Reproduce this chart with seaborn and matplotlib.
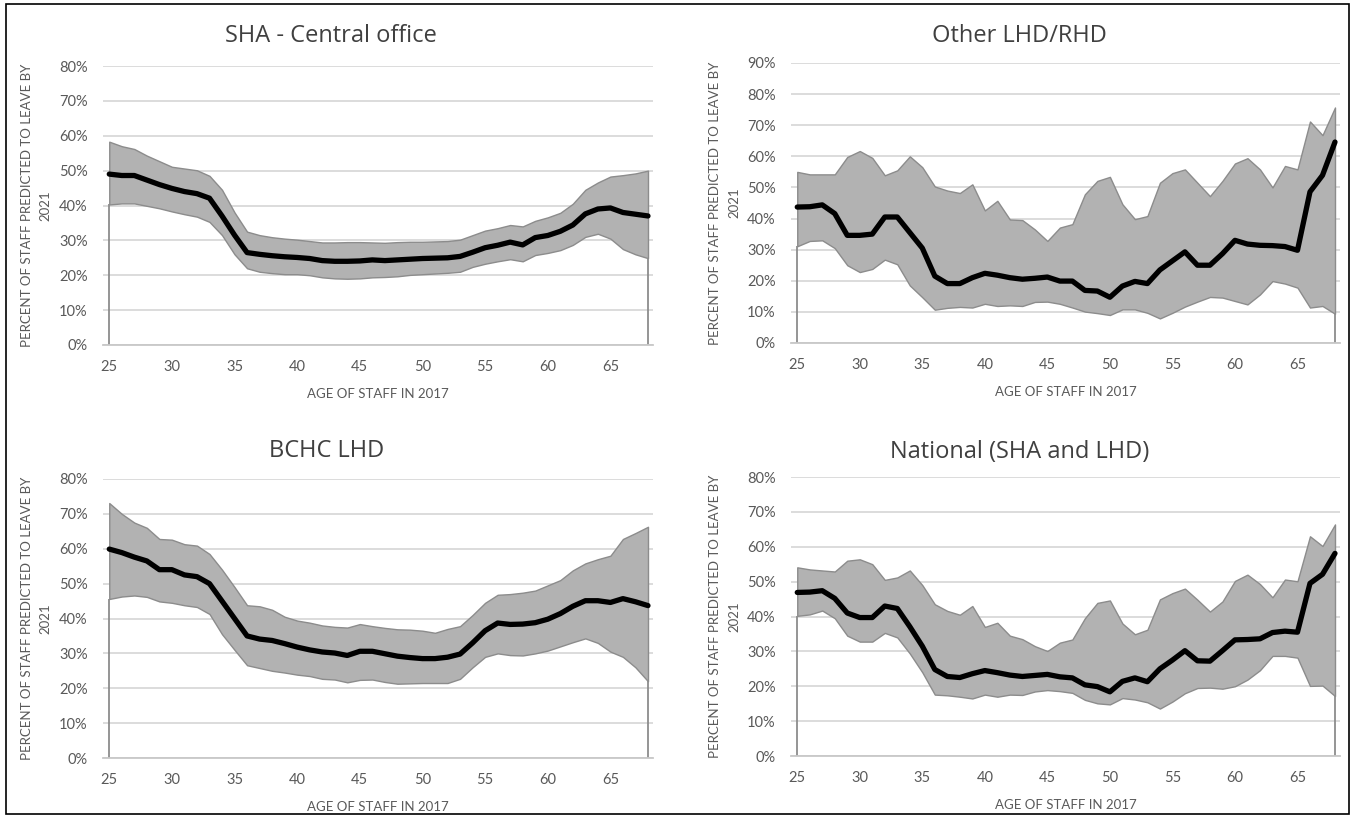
import matplotlib
matplotlib.use('Agg')
import matplotlib.pyplot as plt
from matplotlib.patches import Rectangle
from matplotlib.ticker import PercentFormatter
import seaborn as sns
import pandas as pd

# ages on the x axis (category axis in the original)
ages = list(range(25, 69))
x_ticks = [25, 30, 35, 40, 45, 50, 55, 60, 65]

# SHA - Central office
sha_mid = [49.0, 48.6, 48.6, 47.3, 46.0, 44.9, 44.0, 43.4, 42.1, 37.0, 31.5, 26.5, 26.0, 25.6, 25.3,
           25.1, 24.8, 24.2, 24.0, 24.0, 24.1, 24.4, 24.2, 24.4, 24.6, 24.8, 24.9, 25.0, 25.4, 26.6,
           27.9, 28.6, 29.5, 28.7, 30.8, 31.4, 32.6, 34.4, 37.6, 39.0, 39.3, 38.0, 37.5, 37.0]
sha_lo = [40.3, 40.6, 40.6, 39.9, 39.2, 38.3, 37.5, 36.8, 35.3, 31.5, 26.0, 22.0, 21.0, 20.6, 20.3,
          20.3, 20.0, 19.4, 19.1, 19.0, 19.1, 19.4, 19.5, 19.7, 20.1, 20.3, 20.5, 20.7, 21.0, 22.4,
          23.3, 24.0, 24.6, 24.0, 25.8, 26.4, 27.2, 28.7, 31.0, 31.9, 30.5, 27.5, 26.0, 24.9]
sha_hi = [58.3, 57.0, 56.2, 54.3, 52.7, 51.1, 50.6, 50.1, 48.5, 44.5, 38.0, 32.5, 31.5, 30.9, 30.5,
          30.2, 29.8, 29.4, 29.4, 29.5, 29.5, 29.4, 29.3, 29.5, 29.6, 29.6, 29.7, 29.8, 30.2, 31.5,
          32.8, 33.5, 34.4, 34.0, 35.6, 36.6, 37.9, 40.5, 44.5, 46.6, 48.3, 48.7, 49.2, 50.0]

# Other LHD/RHD
oth_mid = [43.7, 43.8, 44.4, 41.6, 34.6, 34.6, 35.0, 40.5, 40.5, 35.5, 30.5, 21.5, 19.1, 19.1, 21.0,
           22.4, 21.8, 21.0, 20.5, 20.8, 21.2, 19.9, 19.9, 16.9, 16.7, 14.7, 18.3, 19.8, 19.1, 23.5,
           26.4, 29.3, 25.0, 25.0, 28.7, 33.0, 31.8, 31.4, 31.3, 31.0, 29.8, 48.6, 53.9, 64.6]
oth_lo = [31.1, 32.8, 33.0, 30.5, 25.0, 22.8, 23.8, 26.8, 25.3, 18.5, 14.7, 10.7, 11.3, 11.6, 11.4,
          12.6, 11.9, 12.1, 11.9, 13.2, 13.3, 12.6, 11.4, 10.1, 9.6, 9.0, 10.8, 10.8, 9.7, 7.9,
          9.7, 11.7, 13.3, 14.8, 14.6, 13.5, 12.4, 15.6, 19.9, 19.1, 17.8, 11.4, 11.9, 9.4]
oth_hi = [55.0, 54.2, 54.2, 54.2, 59.8, 61.7, 59.5, 53.9, 55.5, 60.0, 56.5, 50.3, 49.0, 48.2, 51.0,
          42.6, 45.7, 39.7, 39.5, 36.5, 32.8, 37.1, 38.2, 47.8, 52.1, 53.4, 44.6, 39.8, 40.8, 51.5,
          54.6, 55.8, 51.5, 47.2, 52.1, 57.7, 59.4, 55.8, 50.0, 56.9, 55.8, 71.2, 66.8, 75.7]

# BCHC LHD
bchc_mid = [59.9, 58.9, 57.6, 56.5, 54.0, 54.0, 52.5, 52.0, 50.0, 45.0, 40.0, 35.0, 34.1, 33.7, 32.8,
            31.8, 31.0, 30.4, 30.1, 29.4, 30.6, 30.6, 29.9, 29.2, 28.8, 28.5, 28.5, 28.9, 29.8, 33.0,
            36.5, 38.7, 38.3, 38.4, 38.8, 39.8, 41.4, 43.5, 45.1, 45.1, 44.6, 45.7, 44.8, 43.7]
bchc_lo = [45.6, 46.3, 46.6, 46.2, 44.9, 44.5, 43.8, 43.3, 41.3, 35.5, 31.0, 26.6, 25.8, 25.0, 24.5,
           23.9, 23.5, 22.7, 22.5, 21.7, 22.4, 22.5, 21.8, 21.3, 21.4, 21.5, 21.5, 21.5, 22.7, 26.0,
           29.0, 30.0, 29.5, 29.4, 30.0, 30.8, 32.0, 33.2, 34.3, 33.0, 30.5, 29.0, 26.0, 22.0]
bchc_hi = [73.1, 70.0, 67.5, 66.0, 62.8, 62.6, 61.3, 60.9, 58.5, 54.0, 49.0, 43.8, 43.5, 42.5, 40.5,
           39.4, 38.8, 38.0, 37.6, 37.4, 38.4, 37.8, 37.3, 36.9, 36.8, 36.5, 35.9, 37.0, 37.8, 41.0,
           44.5, 46.8, 47.0, 47.4, 48.0, 49.5, 51.0, 53.8, 55.8, 57.0, 58.0, 62.8, 64.5, 66.3]

# National (SHA and LHD)
nat_mid = [46.9, 47.0, 47.4, 45.2, 41.0, 39.7, 39.7, 43.0, 42.3, 37.1, 31.5, 24.8, 22.8, 22.5, 23.6,
           24.5, 23.9, 23.2, 22.8, 23.1, 23.4, 22.7, 22.4, 20.4, 19.9, 18.4, 21.4, 22.4, 21.3, 25.0,
           27.5, 30.2, 27.3, 27.2, 30.2, 33.3, 33.4, 33.6, 35.4, 35.8, 35.5, 49.5, 52.1, 58.1]
nat_lo = [40.2, 40.6, 41.7, 39.5, 34.5, 32.8, 32.8, 35.3, 34.0, 29.4, 24.0, 17.6, 17.4, 17.0, 16.5,
          17.6, 17.0, 17.6, 17.5, 18.5, 18.9, 18.6, 18.1, 16.1, 15.1, 14.8, 16.6, 16.2, 15.4, 13.6,
          15.6, 18.0, 19.5, 19.6, 19.3, 20.0, 21.9, 24.6, 28.7, 28.7, 28.2, 20.1, 20.2, 17.2]
nat_hi = [54.1, 53.5, 53.2, 52.9, 56.0, 56.4, 55.0, 50.5, 51.2, 53.2, 49.0, 43.5, 41.6, 40.5, 43.0,
          37.0, 38.2, 34.5, 33.5, 31.5, 30.1, 32.5, 33.4, 39.5, 43.9, 44.6, 38.0, 34.9, 36.2, 44.9,
          46.7, 48.0, 44.8, 41.4, 44.3, 50.2, 52.0, 49.3, 45.5, 50.6, 50.1, 63.0, 60.2, 66.4]

W, H = 1355, 818


def px_rect(left, right, top, bottom):
    return [left / W, 1 - bottom / H, (right - left) / W, (bottom - top) / H]


def draw_panel(fig, rect, title, title_xy, mid, lo, hi, ymax):
    ax = fig.add_axes(rect)
    df = pd.DataFrame({'age': ages, 'mid': mid, 'lo': lo, 'hi': hi})

    ax.fill_between(df['age'], df['lo'], df['hi'], facecolor='#b2b2b2',
                    edgecolor='#8c8c8c', lw=1.0, zorder=2)
    ax.vlines([ages[0], ages[-1]], 0, [lo[0], lo[-1]], color='#8c8c8c', lw=1.3, zorder=2)
    sns.lineplot(data=df, x='age', y='mid', color='black', lw=3.8, ax=ax, zorder=3)

    ax.set_xlim(24.5, 68.4)
    ax.set_ylim(0, ymax)
    ax.set_yticks(range(0, ymax + 1, 10))
    ax.yaxis.set_major_formatter(PercentFormatter(decimals=0))
    ax.set_xticks(x_ticks)
    ax.grid(axis='y', color='#d9d9d9', lw=1.3)
    ax.grid(axis='x', visible=False)
    ax.set_axisbelow(True)
    for s in ['top', 'right', 'left']:
        ax.spines[s].set_visible(False)
    ax.spines['bottom'].set_color('#c8c8c8')
    ax.spines['bottom'].set_linewidth(1.3)
    ax.tick_params(axis='y', length=0, labelsize=10.5, labelcolor='#595959', pad=11)
    ax.tick_params(axis='x', length=0, labelsize=10.5, labelcolor='#595959', pad=11)

    ax.set_xlabel('AGE OF STAFF IN 2017', fontsize=9.5, color='#595959')
    ax.xaxis.set_label_coords(0.5, -0.155)
    ax.set_ylabel('PERCENT OF STAFF PREDICTED TO LEAVE BY\n2021', fontsize=9.5,
                  color='#595959', linespacing=1.7)
    ax.yaxis.set_label_coords(-0.093, 0.5)

    fig.text(title_xy[0] / W, 1 - title_xy[1] / H, title, ha='center', va='center',
             fontsize=17, color='#404040', family=['Open Sans', 'DejaVu Sans'])
    return ax


def main():
    sns.set_theme(style='white')
    plt.rcParams['font.family'] = ['Lato', 'DejaVu Sans']

    fig = plt.figure(figsize=(W / 100, H / 100), dpi=100)

    draw_panel(fig, px_rect(103, 653, 66, 345), 'SHA - Central office', (331, 36),
               sha_mid, sha_lo, sha_hi, 80)
    draw_panel(fig, px_rect(791, 1340, 63, 343), 'Other LHD/RHD', (1019, 36),
               oth_mid, oth_lo, oth_hi, 90)
    draw_panel(fig, px_rect(103, 653, 479, 758), 'BCHC LHD', (327, 451),
               bchc_mid, bchc_lo, bchc_hi, 80)
    draw_panel(fig, px_rect(791, 1340, 477, 756), 'National (SHA and LHD)', (1020, 452),
               nat_mid, nat_lo, nat_hi, 80)

    # outer frame round the whole picture
    fig.add_artist(Rectangle((6 / W, 4 / H), (1349 - 6) / W, (814 - 4) / H,
                             transform=fig.transFigure, fill=False, ec='black', lw=1.2))

    fig.savefig('out.png', dpi=100)
    plt.close(fig)


if __name__ == "__main__":
    raise SystemExit(main())
